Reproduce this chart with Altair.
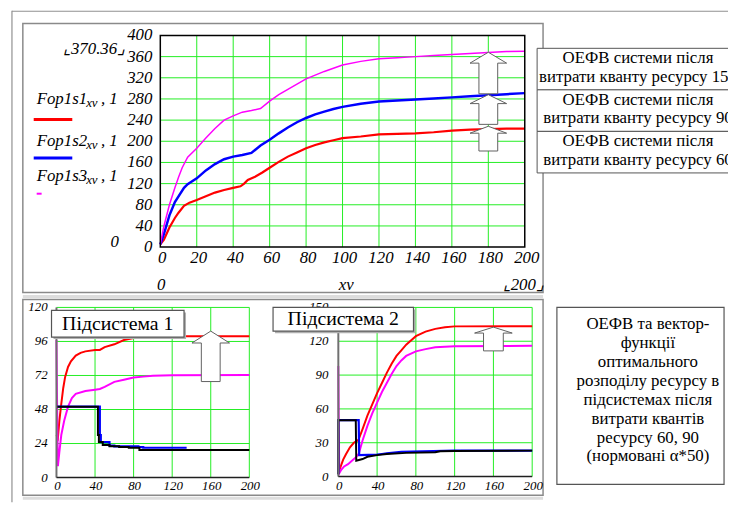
import altair as alt
import pandas as pd

SERIF = "'Liberation Serif', 'Times New Roman', 'DejaVu Serif', serif"
GREEN = "#22ee22"

# ---------------- data ----------------
# top chart: Fop1s1, Fop1s2, Fop1s3
s1_x = [0, 2, 5, 8, 10, 13, 16, 20, 25, 30, 35, 40, 44, 46, 48, 52, 56, 60, 65, 70, 75, 80, 85, 90, 95, 100,
        110, 120, 130, 140, 150, 160, 170, 180, 190, 200]
s1_y = [5, 14, 37, 55, 65, 78, 84, 89, 96, 103, 108, 112, 115, 120, 127, 133, 141, 150, 161, 171, 179, 187, 193,
        198, 202, 206, 209, 213, 214, 215, 217, 220, 222, 223, 224, 224]
s2_x = [0, 2, 5, 8, 10, 13, 15, 20, 25, 30, 35, 40, 45, 50, 55, 60, 65, 70, 75, 80, 85, 90, 95, 100, 110, 120,
        130, 140, 150, 160, 170, 180, 190, 200]
s2_y = [5, 25, 60, 85, 96, 112, 119, 130, 145, 157, 166, 171, 174, 178, 192, 203, 215, 226, 236, 244, 251, 256,
        261, 265, 271, 275, 277, 279, 281, 283, 285, 287, 289, 291]
s3_x = [0, 2, 5, 8, 10, 12, 15, 20, 25, 30, 35, 40, 45, 50, 55, 60, 65, 70, 75, 80, 85, 90, 95, 100, 110, 120,
        130, 140, 150, 160, 170, 180, 190, 200]
s3_y = [5, 40, 80, 112, 132, 150, 170, 187, 206, 224, 240, 248, 255, 258, 262, 276, 288, 298, 308, 318, 325, 332,
        338, 344, 351, 356, 358, 360, 362, 364, 366, 368, 369.5, 370.36]
top_x_ticks = [0, 20, 40, 60, 80, 100, 120, 140, 160, 180, 200]
top_y_ticks = [0, 40, 80, 120, 160, 200, 240, 280, 320, 360, 400]

# subsystem 1
p1_red_x = [0, 1.5, 3, 5, 7, 9, 12, 15, 20, 25, 30, 40, 45, 50, 60, 70, 80, 90, 100, 200]
p1_red_y = [30, 28, 40, 52, 63, 71, 78, 82, 86, 88, 89, 90, 90, 92, 94, 97, 98.5, 99.2, 99.6, 99.6]
p1_mag_x = [0, 0.5, 1.5, 3, 5, 8, 12, 16, 20, 30, 40, 45, 50, 60, 70, 80, 90, 100, 120, 200]
p1_mag_y = [97, 60, 8, 18, 30, 40, 50, 56, 59, 61, 62, 62.5, 64, 67.5, 69, 70.6, 71.2, 71.8, 72.1, 72.3]
p1_blue_x = [0, 45, 46, 55, 60, 85, 90, 135]
p1_blue_y = [50, 30, 25, 22.5, 22, 21.5, 21, 21]
p1_black_x = [0, 43, 44, 48, 55, 65, 75, 86, 200]
p1_black_y = [50, 30, 25, 23, 22, 21.5, 21, 19.5, 19.5]
p1_x_ticks = [0, 40, 80, 120, 160, 200]
p1_y_ticks = [0, 24, 48, 72, 96, 120]

# subsystem 2
p2_red_x = [0, 2, 5, 8, 12, 16, 20, 21, 25, 30, 35, 40, 45, 50, 55, 60, 65, 70, 80, 90, 100, 110, 120, 200]
p2_red_y = [2, 8, 15, 20, 26, 30, 32, 33, 42, 54, 64, 74, 83, 92, 100, 107, 112, 117, 124.5, 128.5, 131, 132.5,
            133.2, 133.3]
p2_mag_x = [0, 0.4, 1, 3, 6, 10, 14, 18, 21, 25, 30, 35, 40, 45, 50, 55, 60, 65, 70, 80, 90, 100, 120, 200]
p2_mag_y = [98, 50, 3, 6, 9, 11, 14, 17, 20, 32, 45, 56, 65.5, 75, 83, 91, 98, 103, 107, 111, 113, 114.7, 115.6,
            116]
p2_blue_x = [0, 0, 21, 21.5, 40, 45, 50, 65, 120, 200]
p2_blue_y = [2, 50, 50, 19, 19.4, 20, 20.5, 22, 23, 23]
p2_black_x = [0, 0, 18, 18.5, 25, 30, 40, 50, 70, 100, 105, 120, 200]
p2_black_y = [2, 50, 50, 14, 15.5, 17.5, 19, 20, 21, 21.5, 22.5, 22.6, 23]
p2_x_ticks = [0, 40, 80, 120, 160, 200]
p2_y_ticks = [0, 30, 60, 90, 120, 150]

box_lines_top = [["ОЕФВ системи після", "витрати кванту ресурсу 150"],
                 ["ОЕФВ системи після", "витрати кванту ресурсу 90"],
                 ["ОЕФВ системи після", "витрати кванту ресурсу 60"]]
box_lines_right = ["ОЕФВ та вектор-", "функції", "оптимального", "розподілу ресурсу в",
                   "підсистемах після", "витрати квантів", "ресурсу 60, 90", "(нормовані α*50)"]

# arrow anchors (data coordinates)
top_arrows_x = [180, 180, 180]
top_arrows_y = [329, 260, 205]
p1_arrow = (160, 85.5)
p2_arrow = (160, 122)


# ---------------- helpers ----------------
def one():
    return pd.DataFrame({"k": [0]})


def rect(x, y, x2, y2, stroke="#808080", sw=1.5, fill="white", fo=1.0):
    return alt.Chart(one()).mark_rect(fill=fill, fillOpacity=fo, stroke=stroke, strokeWidth=sw).encode(
        x=alt.value(x), x2=alt.value(x2), y=alt.value(y), y2=alt.value(y2))


def seg(x, y, x2, y2, color, sw):
    return alt.Chart(one()).mark_rule(color=color, strokeWidth=sw).encode(
        x=alt.value(x), x2=alt.value(x2), y=alt.value(y), y2=alt.value(y2))


def txt(t, x, y, size, style="normal", align="center", dy=0):
    return alt.Chart(one()).mark_text(text=t, font=SERIF, fontSize=size, fontStyle=style, align=align,
                                      baseline="middle", color="black", dy=dy).encode(
        x=alt.value(x), y=alt.value(y))


def line(xv, yv, color, w, xs, ys, interp="linear"):
    df = pd.DataFrame({"x": xv, "y": yv, "i": list(range(len(xv)))})
    return alt.Chart(df).mark_line(color=color, strokeWidth=w, interpolate=interp).encode(
        x=alt.X("x:Q", scale=xs, axis=None), y=alt.Y("y:Q", scale=ys, axis=None), order="i:Q")


def vgrid(vals, xs, ytop, ybot):
    return alt.Chart(pd.DataFrame({"v": vals})).mark_rule(color=GREEN, strokeWidth=1).encode(
        x=alt.X("v:Q", scale=xs, axis=None), y=alt.value(ytop), y2=alt.value(ybot))


def hgrid(vals, ys, xl, xr):
    return alt.Chart(pd.DataFrame({"v": vals})).mark_rule(color=GREEN, strokeWidth=1).encode(
        y=alt.Y("v:Q", scale=ys, axis=None), x=alt.value(xl), x2=alt.value(xr))


def xlabels(vals, xs, y, size, dx=0):
    df = pd.DataFrame({"v": vals, "t": [str(v) for v in vals]})
    return alt.Chart(df).mark_text(font=SERIF, fontSize=size, fontStyle="italic", baseline="middle",
                                   align="center", dx=dx, color="black").encode(
        x=alt.X("v:Q", scale=xs, axis=None), y=alt.value(y), text="t:N")


def ylabels(vals, ys, x, size):
    df = pd.DataFrame({"v": vals, "t": [str(v) for v in vals]})
    return alt.Chart(df).mark_text(font=SERIF, fontSize=size, fontStyle="italic", baseline="middle",
                                   align="right", color="black").encode(
        y=alt.Y("v:Q", scale=ys, axis=None), x=alt.value(x), text="t:N")


def arrow_shape(w_head, w_shaft, h_head, h):
    s = max(w_head, h) / 2.0
    top = -h / 2.0
    hb = top + h_head
    pts = [(0, top), (w_head / 2, hb), (w_shaft / 2, hb), (w_shaft / 2, h / 2), (-w_shaft / 2, h / 2),
           (-w_shaft / 2, hb), (-w_head / 2, hb)]
    path = "M" + " L".join(f"{px / s:.3f},{py / s:.3f}" for px, py in pts) + " Z"
    return path, (2 * s) ** 2


def arrow(xv, yv, dims, xs, ys):
    path, size = arrow_shape(*dims)
    df = pd.DataFrame({"x": [xv], "y": [yv]})
    return alt.Chart(df).mark_point(shape=path, size=size, filled=True, fill="white", stroke="#606060",
                                    strokeWidth=1, opacity=1).encode(
        x=alt.X("x:Q", scale=xs, axis=None), y=alt.Y("y:Q", scale=ys, axis=None))


# ---------------- top panel ----------------
TL, TR, TT, TB = 154, 522.5, 25, 239
xs_t = alt.Scale(domain=[0, 200], range=[TL, TR], nice=False, zero=False)
ys_t = alt.Scale(domain=[0, 400], range=[TB, TT], nice=False, zero=False)
top_arrow_dims = [(37, 19, 11, 42), (37, 19, 9, 30), (37, 19, 7, 25)]
top_panel = alt.layer(
    vgrid(top_x_ticks[1:-1], xs_t, TT, TB),
    hgrid(top_y_ticks[1:-1], ys_t, TL, TR),
    line(s1_x, s1_y, "#ff0000", 2.2, xs_t, ys_t),
    line(s2_x, s2_y, "#0000ff", 2.5, xs_t, ys_t),
    line(s3_x, s3_y, "#ff00ff", 1.5, xs_t, ys_t),
    *[arrow(top_arrows_x[i], top_arrows_y[i], top_arrow_dims[i], xs_t, ys_t) for i in range(3)],
    xlabels(top_x_ticks, xs_t, 250, 17, dx=2),
    ylabels(top_y_ticks, ys_t, 146, 17),
)

# ---------------- subsystem 1 ----------------
L1, R1, T1, B1 = 49, 244, 300, 472
xs_1 = alt.Scale(domain=[0, 200], range=[L1, R1], nice=False, zero=False)
ys_1 = alt.Scale(domain=[0, 120], range=[B1, T1], nice=False, zero=False)
p1_panel = alt.layer(
    vgrid(p1_x_ticks[1:], xs_1, T1, B1),
    hgrid(p1_y_ticks[1:], ys_1, L1, R1),
    line(p1_red_x, p1_red_y, "#ff0000", 2, xs_1, ys_1),
    line(p1_mag_x, p1_mag_y, "#ff00ff", 2, xs_1, ys_1),
    line(p1_blue_x, p1_blue_y, "#0000ff", 2.2, xs_1, ys_1, "step-after"),
    line(p1_black_x, p1_black_y, "#000000", 2, xs_1, ys_1, "step-after"),
    arrow(p1_arrow[0], p1_arrow[1], (38, 19, 12, 51), xs_1, ys_1),
    xlabels(p1_x_ticks, xs_1, 481, 13, dx=1),
    ylabels(p1_y_ticks, ys_1, 40, 13),
)

# ---------------- subsystem 2 ----------------
L2, R2, T2, B2 = 334, 530, 300, 471
xs_2 = alt.Scale(domain=[0, 200], range=[L2, R2], nice=False, zero=False)
ys_2 = alt.Scale(domain=[0, 150], range=[B2, T2], nice=False, zero=False)
p2_panel = alt.layer(
    vgrid(p2_x_ticks[1:], xs_2, T2, B2),
    hgrid(p2_y_ticks[1:], ys_2, L2, R2),
    line(p2_red_x, p2_red_y, "#ff0000", 2, xs_2, ys_2),
    line(p2_mag_x, p2_mag_y, "#ff00ff", 2, xs_2, ys_2),
    line(p2_blue_x, p2_blue_y, "#0000ff", 2.2, xs_2, ys_2),
    line(p2_black_x, p2_black_y, "#000000", 2, xs_2, ys_2),
    arrow(p2_arrow[0], p2_arrow[1], (38, 20, 6, 24), xs_2, ys_2),
    xlabels(p2_x_ticks, xs_2, 481, 13, dx=1),
    ylabels(p2_y_ticks, ys_2, 324, 13),
)

# ---------------- decorations ----------------
background = [
    seg(4, 0.5, 728, 0.5, "#909090", 1.2),
    seg(4, 0, 4, 497, "#909090", 1.2),
    rect(15, 13, 541, 285, stroke="#8a8a8a", sw=1.5),
    seg(15, 289, 541, 289, "#dddddd", 3),
    rect(15, 292, 541, 490, stroke="#8a8a8a", sw=1.5),
    seg(15, 493, 541, 493, "#dddddd", 3),
]

plot_frames = [
    rect(TL, TT, TR, TB, stroke="#000000", sw=1.5, fo=0),
    seg(L1, T1, L1, B1, "#707070", 2), seg(L1, B1, R1, B1, "#202020", 1.5),
    seg(L2, T2, L2, B2, "#707070", 2), seg(L2, B2, R2, B2, "#202020", 1.5),
]

annotations = [
    # top legend
    txt("Fop1s1", 29, 89, 17, "italic", "left"),
    txt("xv", 79, 93, 13, "italic", "left"),
    txt(", 1", 94, 89, 17, "italic", "left"),
    seg(26, 110, 65, 110, "#ff0000", 3),
    txt("Fop1s2", 29, 132, 17, "italic", "left"),
    txt("xv", 79, 136, 13, "italic", "left"),
    txt(", 1", 94, 132, 17, "italic", "left"),
    seg(26, 149, 65, 149, "#0000ff", 3),
    txt("Fop1s3", 29, 167, 17, "italic", "left"),
    txt("xv", 79, 171, 13, "italic", "left"),
    txt(", 1", 94, 167, 17, "italic", "left"),
    seg(29, 185, 34, 185, "#ff00ff", 2),
    txt("⌞370.36⌟", 87, 39, 17, "italic"),
    txt("0", 108, 234, 17, "italic"),
    txt("0", 155, 277, 17, "italic"),
    txt("xv", 342, 277, 17, "italic"),
    txt("⌞200⌟", 521, 277, 17, "italic"),
]
for i, (a, b) in enumerate(box_lines_top):
    y0 = 38 + 42 * i
    annotations.append(rect(535, y0, 740, y0 + 42, stroke="#555555", sw=1))
    annotations.append(txt(a, 637, y0 + 10, 17))
    annotations.append(txt(b, 637, y0 + 29, 17))

annotations += [
    rect(46, 305, 180, 332, stroke="#bbbbbb", sw=0, fill="#b0b0b0"),
    rect(44, 303, 178, 330, stroke="#555555", sw=1.2),
    txt("Підсистема 1", 111, 317, 20),
    rect(270, 302, 412, 326, stroke="#bbbbbb", sw=0, fill="#b0b0b0"),
    rect(268, 300, 410, 324, stroke="#555555", sw=1.2),
    txt("Підсистема 2", 339, 312, 20),
    rect(555, 300, 724, 479, stroke="#555555", sw=1.2),
]
for i, t in enumerate(box_lines_right):
    annotations.append(txt(t, 647, 317 + 19.1 * i, 17))

chart = alt.layer(
    *background, top_panel, p1_panel, p2_panel, *plot_frames, *annotations
).resolve_scale(
    x="independent", y="independent"
).properties(
    width=728, height=497, padding=0, autosize=alt.AutoSizeParams(type="none")
).configure_view(strokeWidth=0)

chart.save("out.html", embed_options={"renderer": "svg", "actions": False})
